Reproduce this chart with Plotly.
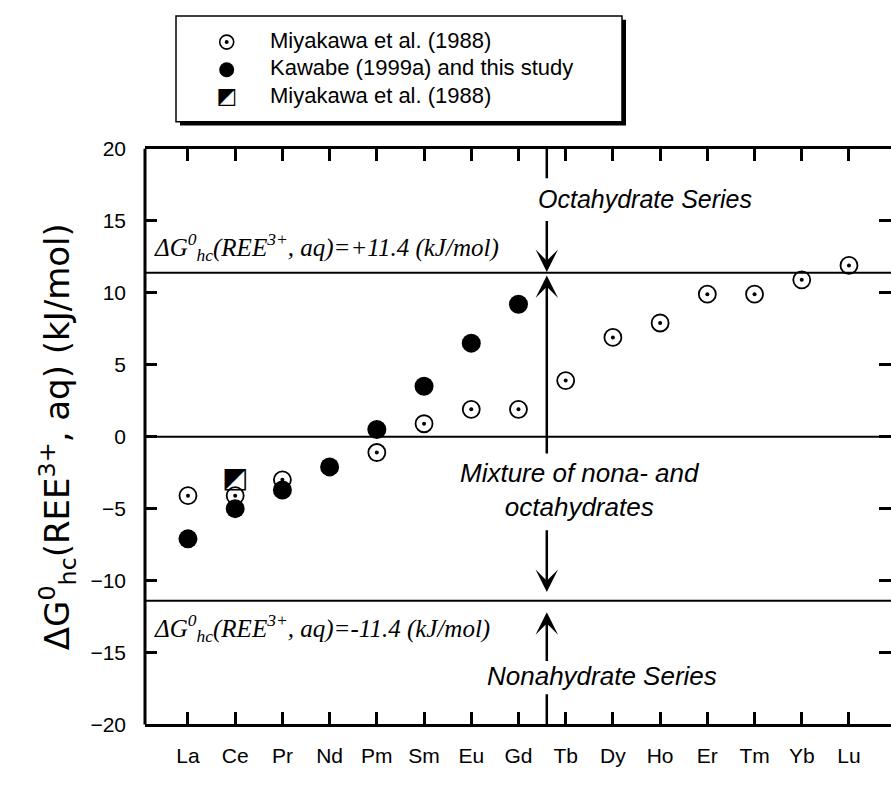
import plotly.graph_objects as go

# ---------------- data ----------------
elements = ["La", "Ce", "Pr", "Nd", "Pm", "Sm", "Eu", "Gd", "Tb", "Dy", "Ho", "Er", "Tm", "Yb", "Lu"]

miy_elems = ["La", "Ce", "Pr", "Pm", "Sm", "Eu", "Gd", "Tb", "Dy", "Ho", "Er", "Tm", "Yb", "Lu"]
miy_vals = [-4.1, -4.1, -3.0, -1.1, 0.9, 1.9, 1.9, 3.9, 6.9, 7.9, 9.9, 9.9, 10.9, 11.9]

kaw_elems = ["La", "Ce", "Pr", "Nd", "Pm", "Sm", "Eu", "Gd"]
kaw_vals = [-7.1, -5.0, -3.7, -2.1, 0.5, 3.5, 6.5, 9.2]

sq_elems = ["Ce"]
sq_vals = [-3.0]

y_ticks = [-20, -15, -10, -5, 0, 5, 10, 15, 20]
boundary = 11.4
divider_x = 7.6  # between Gd and Tb

legend_labels = ["Miyakawa et al. (1988)", "Kawabe (1999a) and this study", "Miyakawa et al. (1988)"]
legend_rows = [0, 1, 2]

# ---------------- geometry ----------------
W, H = 891, 785
PL, PR, PT, PB = 145, 891, 141, 734
LG_L, LG_R, LG_T, LG_B = 176, 622, 4, 113

SANS = "Liberation Sans, Arial, sans-serif"
NARROW = "Liberation Sans Narrow, Arial Narrow, Liberation Sans, sans-serif"
SERIF = "Liberation Serif, Times New Roman, serif"
SQUARE_GLYPH = "\u25E9"

fig = go.Figure()

# Miyakawa open circles with dot
fig.add_trace(go.Scatter(
    x=miy_elems, y=miy_vals, mode="markers",
    marker=dict(symbol="circle", size=17, color="white", line=dict(color="black", width=1.8)),
    showlegend=False, hoverinfo="skip"))
fig.add_trace(go.Scatter(
    x=miy_elems, y=miy_vals, mode="markers",
    marker=dict(symbol="circle", size=4, color="black", line=dict(width=0)),
    showlegend=False, hoverinfo="skip"))
# Kawabe filled circles
fig.add_trace(go.Scatter(
    x=kaw_elems, y=kaw_vals, mode="markers",
    marker=dict(symbol="circle", size=19, color="black", line=dict(width=0)),
    showlegend=False, hoverinfo="skip"))
# Half-filled square
fig.add_trace(go.Scatter(
    x=sq_elems, y=sq_vals, mode="text", text=[SQUARE_GLYPH] * len(sq_elems),
    textposition="middle center",
    textfont=dict(family="DejaVu Sans", size=28, color="black"),
    showlegend=False, hoverinfo="skip"))

# ---------------- custom legend (on its own small axes) ----------------
fig.add_trace(go.Scatter(
    x=[50.7], y=[legend_rows[0]], mode="markers", xaxis="x2", yaxis="y2",
    marker=dict(symbol="circle", size=14, color="white", line=dict(color="black", width=1.6)),
    showlegend=False, hoverinfo="skip"))
fig.add_trace(go.Scatter(
    x=[50.7], y=[legend_rows[0]], mode="markers", xaxis="x2", yaxis="y2",
    marker=dict(symbol="circle", size=4, color="black"),
    showlegend=False, hoverinfo="skip"))
fig.add_trace(go.Scatter(
    x=[50.7], y=[legend_rows[1]], mode="markers", xaxis="x2", yaxis="y2",
    marker=dict(symbol="circle", size=15, color="black"),
    showlegend=False, hoverinfo="skip"))
fig.add_trace(go.Scatter(
    x=[50.7], y=[legend_rows[2]], mode="text", xaxis="x2", yaxis="y2",
    text=[SQUARE_GLYPH], textposition="middle center",
    textfont=dict(family="DejaVu Sans", size=22, color="black"),
    showlegend=False, hoverinfo="skip"))
fig.add_trace(go.Scatter(
    x=[94] * 3, y=legend_rows, mode="text", xaxis="x2", yaxis="y2",
    text=legend_labels, textposition="middle right",
    textfont=dict(family=SANS, size=22, color="black"),
    showlegend=False, hoverinfo="skip"))

shapes = []
# legend box shadow + box
shapes.append(dict(type="rect", xref="paper", yref="paper",
                   x0=(LG_L + 4) / W, x1=(LG_R + 4) / W, y0=1 - (LG_B + 4) / H, y1=1 - (LG_T + 4) / H,
                   fillcolor="black", line=dict(width=0), layer="below"))
shapes.append(dict(type="rect", xref="paper", yref="paper",
                   x0=LG_L / W, x1=LG_R / W, y0=1 - LG_B / H, y1=1 - LG_T / H,
                   fillcolor="white", line=dict(color="black", width=1.5), layer="below"))

# left frame line (right side of the frame lies beyond the picture edge)
shapes.append(dict(type="line", xref="x domain", yref="y domain", x0=0, x1=0, y0=0, y1=1,
                   line=dict(color="black", width=3)))
# horizontal lines at +boundary, 0, -boundary
for yv in [boundary, 0, -boundary]:
    shapes.append(dict(type="line", xref="x domain", yref="y", x0=0, x1=1, y0=yv, y1=yv,
                       line=dict(color="black", width=2)))
# vertical divider pieces (top and bottom stubs)
for y0, y1 in [(20, 17.95), (-17.9, -20)]:
    shapes.append(dict(type="line", xref="x", yref="y", x0=divider_x, x1=divider_x, y0=y0, y1=y1,
                       line=dict(color="black", width=2.5)))

annotations = []
# arrows
for tip, tail in [(11.45, 15.1), (11.2, -1.28), (-10.8, -6.4), (-12.2, -15.7)]:
    annotations.append(dict(x=divider_x, y=tip, ax=divider_x, ay=tail, xref="x", yref="y",
                            axref="x", ayref="y", text="", showarrow=True,
                            arrowhead=3, arrowsize=1.5, arrowwidth=2.5, arrowcolor="black"))

# series labels
annotations.append(dict(x=9.68, y=16.55, xref="x", yref="y", text="<i>Octahydrate Series</i>",
                        showarrow=False, font=dict(family=SANS, size=25, color="black")))
annotations.append(dict(x=8.3, y=-3.7, xref="x", yref="y",
                        text="<i>Mixture of nona- and<br>octahydrates</i>",
                        showarrow=False, font=dict(family=SANS, size=26, color="black")))
annotations.append(dict(x=8.77, y=-16.6, xref="x", yref="y", text="<i>Nonahydrate Series</i>",
                        showarrow=False, font=dict(family=SANS, size=26, color="black")))
# boundary formulas
annotations.append(dict(x=-0.76, y=13.2, xref="x", yref="y", xanchor="left",
                        text="<i>ΔG<sup>0</sup><sub>hc</sub>(REE<sup>3+</sup>, aq)=+11.4 (kJ/mol)</i>",
                        showarrow=False, font=dict(family=SERIF, size=25, color="black")))
annotations.append(dict(x=-0.76, y=-13.3, xref="x", yref="y", xanchor="left",
                        text="<i>ΔG<sup>0</sup><sub>hc</sub>(REE<sup>3+</sup>, aq)=-11.4 (kJ/mol)</i>",
                        showarrow=False, font=dict(family=SERIF, size=25, color="black")))

fig.update_layout(
    width=W, height=H,
    margin=dict(l=0, r=0, t=0, b=0),
    paper_bgcolor="white", plot_bgcolor="white",
    showlegend=False,
    shapes=shapes, annotations=annotations,
    xaxis=dict(
        type="category", categoryorder="array", categoryarray=elements,
        domain=[PL / W, PR / W], range=[-0.91, 14.89],
        showline=True, linewidth=3, linecolor="black", mirror="ticks",
        ticks="inside", ticklen=12, tickwidth=3, tickcolor="black",
        showgrid=False, zeroline=False,
        tickfont=dict(family=NARROW, size=21, color="black"),
        ticklabelstandoff=10,
    ),
    yaxis=dict(
        domain=[1 - PB / H, 1 - PT / H], range=[-20, 20],
        tickvals=y_ticks, ticktext=[str(v).replace("-", "\u2212") for v in y_ticks],
        showline=False, mirror="ticks",
        ticks="inside", ticklen=12, tickwidth=3, tickcolor="black",
        showgrid=False, zeroline=False,
        tickfont=dict(family=SANS, size=21, color="black"),
        ticklabelstandoff=18,
        title=dict(text="ΔG<sup>0</sup><sub>hc</sub>(REE<sup>3+</sup>, aq) (kJ/mol)",
                   font=dict(family="DejaVu Sans, Liberation Sans, sans-serif", size=34, color="black"),
                   standoff=10),
    ),
    xaxis2=dict(domain=[LG_L / W, LG_R / W], range=[0, LG_R - LG_L], visible=False, fixedrange=True),
    yaxis2=dict(domain=[1 - 116.5 / H, 1 - 2.5 / H], range=[3.0, -1.0], visible=False, fixedrange=True),
)

fig.write_html("out.html",
               config={"displayModeBar": False, "staticPlot": True},
               post_script="document.body.style.margin='0px';document.body.style.overflow='hidden';")
